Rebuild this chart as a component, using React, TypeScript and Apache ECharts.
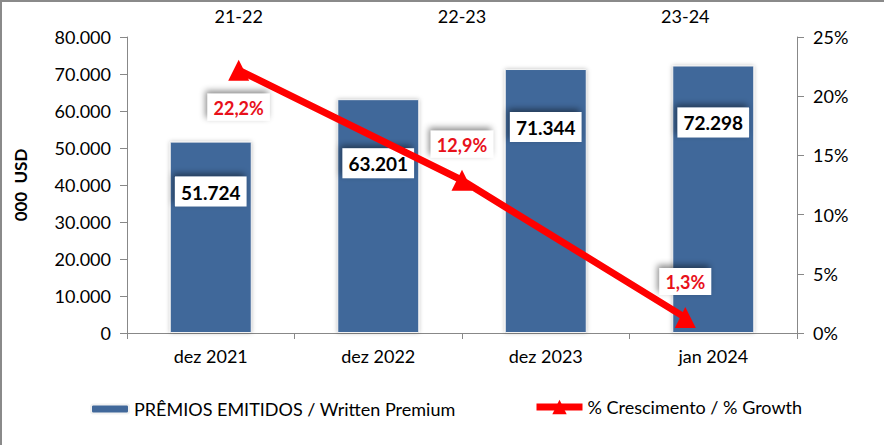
import React, { useEffect, useRef } from "react";
import * as echarts from "echarts";

const categories = ["dez 2021", "dez 2022", "dez 2023", "jan 2024"];
const periods = ["21-22", "22-23", "23-24"];
const premiums = [51724, 63201, 71344, 72298];
const growth = [22.2, 12.9, 1.3];
const barName = "PRÊMIOS EMITIDOS / Written Premium";
const lineName = "% Crescimento / % Growth";

// label styling (not data)
const barLabelDistance = [35, 49, 43, 42];
const lineLabelPos = ["bottom", "top", "top"];
const lineLabelDist = [13, 12, 12];

const fmtThousands = (v: number) =>
  String(Math.round(v)).replace(/\B(?=(\d{3})+(?!\d))/g, ".");

const FONT = "Lato, 'Noto Sans', sans-serif";

export default function App() {
  const ref = useRef<HTMLDivElement>(null);
  useEffect(() => {
    document.body.style.margin = "0";
    const chart = echarts.init(ref.current!, null, { renderer: "svg" });
    const boxShadow = {
      shadowBlur: 6,
      shadowColor: "rgba(0,0,0,0.45)",
      shadowOffsetX: -2,
      shadowOffsetY: -3,
    };
    chart.setOption({
      animation: false,
      backgroundColor: "#fff",
      textStyle: { fontFamily: FONT },
      graphic: [
        { type: "line", shape: { x1: 1, y1: 0, x2: 1, y2: 445 }, style: { stroke: "#8a8a8a", lineWidth: 2 } },
        { type: "line", shape: { x1: 0, y1: 1, x2: 884, y2: 1 }, style: { stroke: "#8a8a8a", lineWidth: 2 } },
      ],
      grid: { left: 127, right: 87, top: 37, bottom: 112, containLabel: false },
      legend: [
        {
          data: [barName],
          left: 85,
          top: 395,
          itemWidth: 38,
          itemHeight: 9,
          itemGap: 6,
          textStyle: { fontSize: 18, color: "#000", fontFamily: FONT, fontWeight: "normal" },
        },
        {
          data: [lineName],
          left: 528,
          top: 393,
          itemWidth: 46,
          itemHeight: 18,
          lineStyle: { width: 7, color: "#FF0000" },
          textStyle: { fontSize: 18, color: "#000", fontFamily: FONT, fontWeight: "normal" },
        },
      ],
      xAxis: [
        {
          type: "category",
          data: categories,
          position: "bottom",
          axisLine: { lineStyle: { color: "#888", width: 1 } },
          axisTick: { show: true, length: 6, lineStyle: { color: "#888" }, interval: 0 },
          axisLabel: { fontSize: 18, color: "#000", margin: 14, fontFamily: FONT, fontWeight: "normal" },
        },
        {
          type: "category",
          data: periods,
          position: "top",
          axisLine: { lineStyle: { color: "#888", width: 1 } },
          axisTick: { show: false },
          axisLabel: { fontSize: 18, color: "#000", margin: 12, fontFamily: FONT, fontWeight: "normal" },
        },
      ],
      yAxis: [
        {
          type: "value",
          min: 0,
          max: 80000,
          interval: 10000,
          name: "000  USD",
          nameLocation: "middle",
          nameGap: 98,
          nameRotate: 90,
          nameTextStyle: { fontSize: 17, fontWeight: "bold", color: "#000", fontFamily: FONT },
          axisLine: { show: true, lineStyle: { color: "#888" } },
          axisTick: { show: true, length: 7, lineStyle: { color: "#888" } },
          splitLine: { show: false },
          axisLabel: {
            fontSize: 18,
            color: "#000",
            margin: 16,
            fontFamily: FONT,
            fontWeight: "normal",
            formatter: (v: number) => fmtThousands(v),
          },
        },
        {
          type: "value",
          min: 0,
          max: 25,
          interval: 5,
          position: "right",
          axisLine: { show: true, lineStyle: { color: "#888" } },
          axisTick: { show: true, length: 7, lineStyle: { color: "#888" } },
          splitLine: { show: false },
          axisLabel: {
            fontSize: 18,
            color: "#000",
            margin: 16,
            fontFamily: FONT,
            fontWeight: "normal",
            formatter: "{value}%",
          },
        },
      ],
      series: [
        {
          name: barName,
          type: "bar",
          xAxisIndex: 0,
          yAxisIndex: 0,
          barWidth: 82,
          itemStyle: {
            color: "#41689A",
            borderColor: "#f2f2f2",
            borderWidth: 1,
            shadowBlur: 4,
            shadowColor: "rgba(0,0,0,0.25)",
          },
          data: premiums.map((v, i) => ({
            value: v,
            label: { distance: barLabelDistance[i] },
          })),
          label: {
            show: true,
            position: "insideTop",
            formatter: (p: any) => fmtThousands(p.value),
            fontSize: 19,
            fontWeight: "bold",
            color: "#000",
            fontFamily: FONT,
            backgroundColor: "#fff",
            padding: [6, 6, 5, 6],
            ...boxShadow,
          },
        },
        {
          name: lineName,
          type: "line",
          xAxisIndex: 1,
          yAxisIndex: 1,
          symbol: "triangle",
          symbolSize: 21,
          lineStyle: { color: "#FF0000", width: 7 },
          itemStyle: { color: "#FF0000" },
          data: growth.map((v, i) => ({
            value: v,
            label: { position: lineLabelPos[i], distance: lineLabelDist[i] },
          })),
          label: {
            show: true,
            formatter: (p: any) => p.value.toFixed(1).replace(".", ",") + "%",
            fontSize: 18,
            fontWeight: "bold",
            color: "#E8101A",
            fontFamily: FONT,
            backgroundColor: "#fff",
            padding: [5, 6, 4, 6],
            ...boxShadow,
          },
        },
      ],
    });
    return () => chart.dispose();
  }, []);
  return (
    <div
      ref={ref}
      style={{ position: "fixed", left: 0, top: 0, width: 884, height: 445 }}
    />
  );
}
